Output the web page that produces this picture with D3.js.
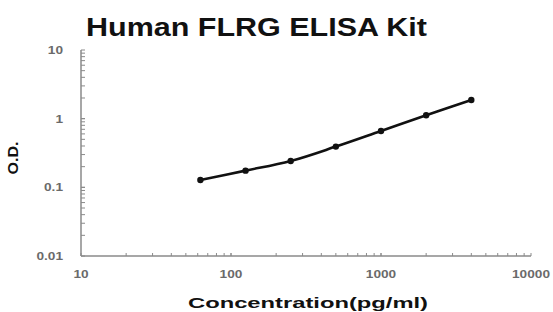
<!DOCTYPE html>
<html>
<head>
<meta charset="utf-8">
<script src="https://cdn.jsdelivr.net/npm/d3@7"></script>
<style>
body { margin: 0; background: #fff; }
</style>
</head>
<body>
<script>
// dati
var concentrations = [62.5, 125, 250, 500, 1000, 2000, 4000];
var odValues = [0.128, 0.175, 0.242, 0.392, 0.662, 1.12, 1.87];
var xTicks = [10, 100, 1000, 10000];
var yTicks = [0.01, 0.1, 1, 10];
var yTickLabels = ["0.01", "0.1", "1", "10"];
var xTickLabels = ["10", "100", "1000", "10000"];

var width = 553, height = 312;
var margin = {top: 50, right: 22, bottom: 56, left: 81};
var font = "Liberation Sans, Arial, sans-serif";

var svg = d3.select("body").append("svg")
    .attr("width", width)
    .attr("height", height);

var x = d3.scaleLog().domain([10, 10000]).range([margin.left, width - margin.right]);
var y = d3.scaleLog().domain([0.01, 10]).range([height - margin.bottom, margin.top]);

var axisColor = "#8a8a8a";

// il grafico originale è stirato in orizzontale: allargo i testi
function stretch(sel, factor) {
	sel.each(function() {
		var w = this.getComputedTextLength();
		d3.select(this).attr("textLength", w * factor).attr("lengthAdjust", "spacingAndGlyphs");
	});
}

// tacche minori e maggiori (verso l'interno)
var xMinor = [];
for (var d = 10; d < 10000; d *= 10) {
	for (var k = 1; k <= 10; k++) xMinor.push(d * k);
}
var yMinor = [];
for (var d2 = 0.01; d2 < 10; d2 *= 10) {
	for (var k2 = 1; k2 <= 10; k2++) yMinor.push(d2 * k2);
}

svg.append("g").selectAll("line").data(xMinor).enter().append("line")
	.attr("x1", function(d){ return x(d); })
	.attr("x2", function(d){ return x(d); })
	.attr("y1", y(0.01))
	.attr("y2", function(d){ return y(0.01) - 3; })
	.attr("stroke", axisColor)
	.attr("stroke-width", 1);

svg.append("g").selectAll("line").data(yMinor).enter().append("line")
	.attr("x1", x(10))
	.attr("x2", x(10) + 4)
	.attr("y1", function(d){ return y(d); })
	.attr("y2", function(d){ return y(d); })
	.attr("stroke", axisColor)
	.attr("stroke-width", 1);

// assi
svg.append("line")
	.attr("x1", x(10)).attr("x2", x(10))
	.attr("y1", y(10)).attr("y2", y(0.01))
	.attr("stroke", axisColor).attr("stroke-width", 1.5);
svg.append("line")
	.attr("x1", x(10)).attr("x2", x(10000))
	.attr("y1", y(0.01)).attr("y2", y(0.01))
	.attr("stroke", axisColor).attr("stroke-width", 1.5);

// etichette
svg.append("g").selectAll("text").data(yTicks).enter().append("text")
	.attr("x", x(10) - 18)
	.attr("y", function(d){ return y(d) + 4; })
	.attr("text-anchor", "end")
	.attr("font-family", font)
	.attr("font-size", 10.5)
	.attr("font-weight", "bold")
	.attr("fill", "#6a6a6a")
	.text(function(d, i){ return yTickLabels[i]; })
	.call(stretch, 1.3);

svg.append("g").selectAll("text").data(xTicks).enter().append("text")
	.attr("x", function(d){ return x(d); })
	.attr("y", y(0.01) + 22)
	.attr("text-anchor", "middle")
	.attr("font-family", font)
	.attr("font-size", 10.5)
	.attr("font-weight", "bold")
	.attr("fill", "#6a6a6a")
	.text(function(d, i){ return xTickLabels[i]; })
	.call(stretch, 1.3);

// curva
var line = d3.line()
	.x(function(d, i){ return x(concentrations[i]); })
	.y(function(d){ return y(d); })
	.curve(d3.curveCatmullRom);

svg.append("path")
	.datum(odValues)
	.attr("d", line)
	.attr("fill", "none")
	.attr("stroke", "#111")
	.attr("stroke-width", 2.6);

svg.append("g").selectAll("circle").data(odValues).enter().append("circle")
	.attr("cx", function(d, i){ return x(concentrations[i]); })
	.attr("cy", function(d){ return y(d); })
	.attr("r", 3.2)
	.attr("fill", "#111");

// titoli
svg.append("text")
	.attr("x", 256.5).attr("y", 36)
	.attr("text-anchor", "middle")
	.attr("font-family", font)
	.attr("font-weight", "bold")
	.attr("font-size", 25)
	.attr("fill", "#111")
	.attr("textLength", 341)
	.attr("lengthAdjust", "spacingAndGlyphs")
	.text("Human FLRG ELISA Kit");

svg.append("text")
	.attr("x", 308).attr("y", 308)
	.attr("text-anchor", "middle")
	.attr("font-family", font)
	.attr("font-weight", "bold")
	.attr("font-size", 15.5)
	.attr("fill", "#111")
	.attr("textLength", 240)
	.attr("lengthAdjust", "spacingAndGlyphs")
	.text("Concentration(pg/ml)");

svg.append("text")
	.attr("transform", "translate(18,158) rotate(-90)")
	.attr("text-anchor", "middle")
	.attr("font-family", font)
	.attr("font-weight", "bold")
	.attr("font-size", 15.5)
	.attr("fill", "#111")
	.attr("textLength", 33)
	.attr("lengthAdjust", "spacingAndGlyphs")
	.text("O.D.");
</script>
</body>
</html>
